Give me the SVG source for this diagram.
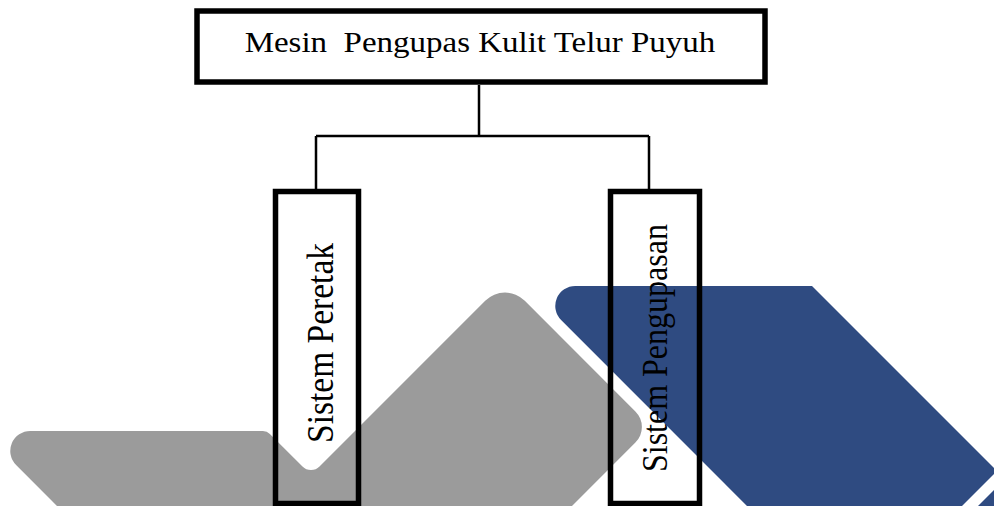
<svg xmlns="http://www.w3.org/2000/svg" width="994" height="506" viewBox="0 0 994 506">
<style>
.box{fill:none;stroke:#000;stroke-width:5.5}
.conn{fill:none;stroke:#000;stroke-width:2.5}
.lbl{font-family:"Liberation Serif","Times New Roman",serif;fill:#000}
.gray{fill:#9b9b9b}
.blue{fill:#2f4b81}
</style>
<g id="background">
<path class="gray" d="M30.3 431 L262.9 431 A10 10 0 0 1 269.9 433.9 L302.5 466.5 A12 12 0 0 0 319.5 466.5 L485.2 300.8 A28 28 0 0 1 524.8 300.8 L635.4 411.4 A22 22 0 0 1 635.4 442.6 L558 520 L71 520 L16.1 465.1 A20 20 0 0 1 30.3 431 Z"/>
<path class="blue" d="M575.3 286 L812 286 L997 471 L948 520 L761 520 L561.1 320.1 A20 20 0 0 1 575.3 286 Z"/>
<path class="blue" d="M1000 484 L1000 520 L964 520 Z"/>
</g>
<g id="connectors">
<path class="conn" d="M479 85 V136 M316 136 H649 M316 136 V189 M649 136 V189"/>
</g>
<g id="node-root">
<rect class="box" x="197" y="11" width="568" height="71"/>
<text class="lbl" x="480" y="52" font-size="30" text-anchor="middle" transform="translate(480 0) scale(1.1 1) translate(-480 0)" xml:space="preserve">Mesin  Pengupas Kulit Telur Puyuh</text>
</g>
<g id="node-peretak">
<rect class="box" x="275.5" y="191.5" width="83" height="312"/>
<text class="lbl" font-size="33.5" transform="translate(333 443) scale(1.15 1) rotate(-90)">Sistem Peretak</text>
</g>
<g id="node-pengupasan">
<rect class="box" x="610.5" y="191.5" width="89" height="312"/>
<text class="lbl" font-size="32" transform="translate(667 472) scale(1.15 1) rotate(-90)">Sistem Pengupasan</text>
</g>
</svg>
